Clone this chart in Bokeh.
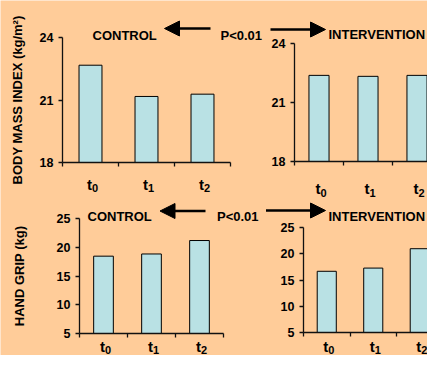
from bokeh.plotting import figure
from bokeh.models import Range1d, FixedTicker, LinearAxis, Arrow, NormalHead
from bokeh.core.properties import value
from bokeh.embed import file_html
from bokeh.resources import INLINE

# ---------------- data ----------------
categories = ["t0", "t1", "t2"]
tick_main = ["t", "t", "t"]
tick_sub = ["0", "1", "2"]
bmi_control = [22.67, 21.17, 21.28]
bmi_intervention = [22.38, 22.33, 22.38]
grip_control = [18.45, 18.83, 21.17]
grip_intervention = [16.66, 17.27, 20.96]
bmi_ticks = [18, 21, 24]
grip_ticks = [5, 10, 15, 20, 25]
label_control = "CONTROL"
label_p = "P<0.01"
label_intervention = "INTERVENTION"
bmi_title = "BODY MASS INDEX (kg/m\u00b2)"
grip_title = "HAND GRIP (kg)"

# ---------------- style / layout ----------------
W, H = 427, 355
BG = "#FFCC99"
BAR = "#B9E1E4"
FONT = "Liberation Sans"
INK = "#000000"
AXIS = "#111111"

xs = [i + 1 for i in range(len(categories))]
bounds = [i + 0.5 for i in range(len(categories) + 1)]

# canvas ranges in pixels (y downwards), used for panel placement and headers
p = figure(width=W, height=H, x_range=Range1d(0, W), y_range=Range1d(H, 0),
           x_axis_location=None, y_axis_location=None, min_border=0,
           output_backend="svg", toolbar_location=None, title=None,
           background_fill_color=BG, border_fill_color=BG, outline_line_color=None)
p.grid.visible = False


def panel(name, x0, xppu, y_lo_px, y_hi_px, ticks, values, ytitle=None, title_standoff=12,
          t_base=22, sub_base=26):
    ymin, ymax = ticks[0], ticks[-1]
    yppu = (y_lo_px - y_hi_px) / (ymax - ymin)
    xn, yn = name + "_x", name + "_y"
    p.extra_x_ranges[xn] = Range1d(0.5 - x0 / xppu, 0.5 + (W - x0) / xppu)
    p.extra_y_ranges[yn] = Range1d(ymin - (H - y_lo_px) / yppu, ymin + y_lo_px / yppu)

    p.vbar(x=xs, top=values, bottom=ymin, width=0.41, fill_color=BAR,
           line_color=INK, line_width=1, x_range_name=xn, y_range_name=yn)

    ya = LinearAxis(x_range_name=xn, y_range_name=yn, fixed_location=0.5,
                    bounds=(ymin, ymax), ticker=FixedTicker(ticks=ticks))
    ya.major_tick_out = 4
    ya.major_tick_in = 0
    ya.minor_tick_line_color = None
    ya.axis_line_color = AXIS
    ya.axis_line_width = 1.3
    ya.major_tick_line_color = AXIS
    ya.major_tick_line_width = 1.3
    ya.major_label_standoff = 5
    ya.major_label_text_font = FONT
    ya.major_label_text_font_style = "bold"
    ya.major_label_text_font_size = "12.5px"
    ya.major_label_text_color = INK
    if ytitle:
        ya.axis_label = ytitle
        ya.axis_label_text_font = FONT
        ya.axis_label_text_font_style = "bold"
        ya.axis_label_text_font_size = "13px"
        ya.axis_label_text_color = INK
        ya.axis_label_standoff = title_standoff
    p.add_layout(ya, "left")

    xa = LinearAxis(x_range_name=xn, y_range_name=yn, fixed_location=ymin,
                    bounds=(bounds[0], bounds[-1]),
                    ticker=FixedTicker(ticks=[], minor_ticks=bounds))
    xa.major_tick_line_color = None
    xa.minor_tick_out = 4
    xa.minor_tick_in = 0
    xa.minor_tick_line_color = AXIS
    xa.minor_tick_line_width = 1.3
    xa.axis_line_color = AXIS
    xa.axis_line_width = 1.3
    p.add_layout(xa, "below")

    # category labels: "t" with subscript index
    lx = [x + 1.5 / xppu for x in xs]
    p.text(x=lx, y=[ymin - t_base / yppu] * len(xs), text=tick_main,
           text_align="right", text_baseline="alphabetic", text_font=value(FONT),
           text_font_style="bold", text_font_size="15px", text_color=INK,
           x_range_name=xn, y_range_name=yn)
    p.text(x=lx, y=[ymin - sub_base / yppu] * len(xs), text=tick_sub,
           text_align="left", text_baseline="alphabetic", text_font=value(FONT),
           text_font_style="bold", text_font_size="11px", text_color=INK,
           x_range_name=xn, y_range_name=yn)


def header(texts, xs_px, ys_px):
    p.text(x=xs_px, y=ys_px, text=texts, text_align="left", text_baseline="alphabetic",
           text_font=value(FONT), text_font_style="bold", text_font_size="13px", text_color=INK)


def arrow(x_tail, x_tip, y):
    p.add_layout(Arrow(x_start=x_tail, y_start=y, x_end=x_tip, y_end=y,
                       line_color=INK, line_width=2.5,
                       end=NormalHead(size=15, fill_color=INK, line_color=INK, line_width=1)))


# top row: body mass index
panel("tl", 62, 56, 162, 37, bmi_ticks, bmi_control, ytitle=bmi_title, title_standoff=12,
      t_base=22, sub_base=25.7)
panel("tr", 294, 49, 161, 43, bmi_ticks, bmi_intervention, t_base=27, sub_base=31.5)
header([label_control, label_p, label_intervention], [92, 220, 328], [35, 34.5, 34])
arrow(210, 164, 28)
arrow(270, 325, 29)

# bottom row: hand grip
panel("bl", 79, 48, 333, 218, grip_ticks, grip_control, ytitle=grip_title, title_standoff=27,
      t_base=13, sub_base=16.5)
panel("br", 303, 46.5, 332, 227, grip_ticks, grip_intervention, t_base=14, sub_base=17.5)
header([label_control, label_p, label_intervention], [87, 216.5, 328], [216, 216, 215.5])
arrow(205, 159.5, 210.5)
arrow(265.5, 325, 210)

open("out.html", "w").write(file_html(p, INLINE))
